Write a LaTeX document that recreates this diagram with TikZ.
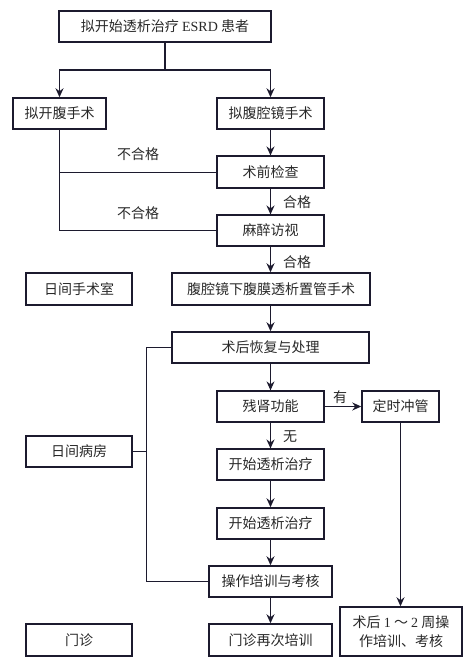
\documentclass[tikz,border=0pt]{standalone}
\usepackage{fontspec}
\setmainfont{Noto Sans CJK SC}
\newfontfamily\latin{Liberation Serif}
\usepackage{tikz}
\usetikzlibrary{arrows.meta,positioning}
\definecolor{inkline}{RGB}{28, 26, 46}
\definecolor{inktext}{RGB}{40, 40, 40}

\tikzset{
  flowbox/.style={draw=inkline, line width=1.5pt, text=inktext, minimum height=31pt, inner sep=2pt, font=\fontsize{14}{17}\selectfont},
  flowarrow/.style={draw=inkline, line width=1.9pt, -{Stealth[length=9pt, width=8pt, inset=3pt]}},
  thinline/.style={draw=inkline, line width=0.8pt},
  flowlabel/.style={text=inktext, inner sep=0pt, font=\fontsize{14}{17}\selectfont}
}

\begin{document}
\begin{tikzpicture}[x=1pt, y=-1pt]
        \useasboundingbox (0,0) rectangle (471,664);
        % Patients and the two surgical routes
        \node[flowbox, minimum width=212pt] (patient) at (165, 26.5) {拟开始透析治疗 {\latin ESRD} 患者};
        \node[flowbox, minimum width=93pt] (open) at (59.5, 113.5) {拟开腹手术};
        \node[flowbox, minimum width=107pt] (lapplan) at (270.5, 113.5) {拟腹腔镜手术};
        \coordinate (split) at (165, 70);
        \draw[flowarrow] (patient.south) -- (split) -| (open.north);
        \draw[flowarrow] (split) -| (lapplan.north);
        
        % Pre-operative checks
        \node[flowbox, line width=1.1pt, minimum width=107pt, minimum height=32pt] (precheck) at (270.5, 172) {术前检查};
        \node[flowbox, line width=1.1pt, minimum width=107pt] (anes) at (270.5, 230.5) {麻醉访视};
        \draw[flowarrow] (lapplan) -- (precheck);
        \draw[flowarrow] (precheck) -- (anes);
        \node[flowlabel] (pass1) at (297, 202) {合格};
        \draw[thinline] (open.south) |- (anes.west);
        \draw[thinline] (precheck.west) -- (precheck.west -| open.south);
        \node[flowlabel] (fail1) at (138, 154) {不合格};
        \node[flowlabel] (fail2) at (138, 213) {不合格};
        
        % Day surgery room
        \node[flowbox, minimum width=106pt, minimum height=32pt] (dayor) at (79, 289) {日间手术室};
        \node[flowbox, minimum width=198pt, minimum height=32pt] (surgery) at (271, 289) {腹腔镜下腹膜透析置管手术};
        \draw[flowarrow] (anes) -- (surgery.north -| anes);
        \node[flowlabel] (pass2) at (297, 262) {合格};
        
        % Day ward
        \node[flowbox, minimum width=197pt] (postop) at (270.5, 347.5) {术后恢复与处理};
        \node[flowbox, line width=1.3pt, minimum width=107pt] (renal) at (270.5, 406.5) {残肾功能};
        \node[flowbox, minimum width=77pt] (flush) at (400.5, 406.5) {定时冲管};
        \node[flowbox, minimum width=106pt] (ward) at (79, 451.5) {日间病房};
        \node[flowbox, line width=1.1pt, minimum width=107pt] (dialysisA) at (270.5, 464.5) {开始透析治疗};
        \node[flowbox, minimum width=107pt] (dialysisB) at (270.5, 523.5) {开始透析治疗};
        \node[flowbox, minimum width=123pt] (training) at (270.5, 581.5) {操作培训与考核};
        \draw[flowarrow] (surgery.south -| postop) -- (postop);
        \draw[flowarrow, line width=1pt] (postop) -- (renal);
        \draw[flowarrow, line width=1pt] (renal) -- (flush);
        \node[flowlabel] (yes) at (340, 397) {有};
        \draw[flowarrow] (renal) -- (dialysisA);
        \node[flowlabel] (no) at (290, 437) {无};
        \draw[flowarrow] (dialysisA) -- (dialysisB);
        \draw[flowarrow] (dialysisB) -- (training);
        \coordinate (wardbar) at (146, 347.5);
        \draw[thinline] (postop.west) -- (wardbar) |- (training.west);
        \draw[thinline] (ward.east) -- (ward.east -| wardbar);
        
        % Outpatient clinic
        \node[flowbox, minimum width=106pt, minimum height=32pt] (clinic) at (79, 640) {门诊};
        \node[flowbox, minimum width=123pt, minimum height=32pt] (retrain) at (270.5, 640) {门诊再次培训};
        \node[flowbox, minimum width=122pt, minimum height=49pt, align=center, font=\fontsize{14}{19}\selectfont] (weeks) at (401, 631.5) {术后 {\latin 1} ～ {\latin 2} 周操\\作培训、考核};
        \draw[flowarrow] (training) -- (retrain);
        \draw[flowarrow, line width=1pt] (flush.south) -- (weeks.north -| flush.south);
    \end{tikzpicture}
\end{document}
